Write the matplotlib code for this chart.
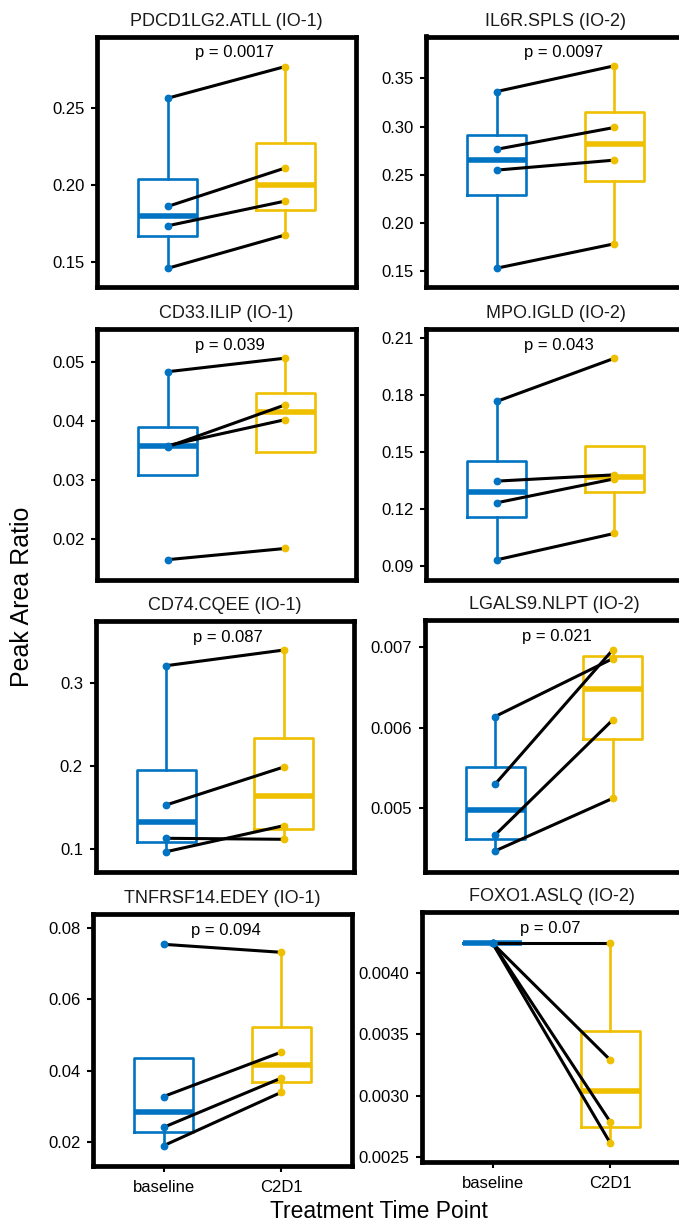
# Paired boxplots, baseline vs C2D1, eight peptides

import numpy as np
import matplotlib.pyplot as plt
from matplotlib import transforms

plt.rcParams['font.family'] = ['Liberation Sans', 'DejaVu Sans']

# Data
titles = ['PDCD1LG2.ATLL (IO-1)', 'IL6R.SPLS (IO-2)',
          'CD33.ILIP (IO-1)', 'MPO.IGLD (IO-2)',
          'CD74.CQEE (IO-1)', 'LGALS9.NLPT (IO-2)',
          'TNFRSF14.EDEY (IO-1)', 'FOXO1.ASLQ (IO-2)']
p_labels = ['p = 0.0017', 'p = 0.0097', 'p = 0.039', 'p = 0.043',
            'p = 0.087', 'p = 0.021', 'p = 0.094', 'p = 0.07']
categories = ['baseline', 'C2D1']

baseline = [
    [0.2561, 0.1861, 0.1736, 0.1461],
    [0.3364, 0.2763, 0.2546, 0.1525],
    [0.0483, 0.0356, 0.0358, 0.0165],
    [0.1765, 0.1346, 0.1232, 0.0932],
    [0.3204, 0.1532, 0.1132, 0.0971],
    [0.00614, 0.00530, 0.004668, 0.00447],
    [0.0755, 0.0327, 0.02405, 0.01888],
    [0.004245, 0.004245, 0.004245, 0.004245],
]
c2d1 = [
    [0.2766, 0.2110, 0.1896, 0.1677],
    [0.3632, 0.2990, 0.2650, 0.1779],
    [0.0506, 0.0427, 0.0402, 0.0184],
    [0.1992, 0.1379, 0.1358, 0.1071],
    [0.3392, 0.1988, 0.1120, 0.1284],
    [0.00686, 0.00697, 0.00610, 0.005124],
    [0.07325, 0.0452, 0.0379, 0.0339],
    [0.004245, 0.00329, 0.002783, 0.00261],
]

yticks = [
    [0.15, 0.20, 0.25],
    [0.15, 0.20, 0.25, 0.30, 0.35],
    [0.02, 0.03, 0.04, 0.05],
    [0.09, 0.12, 0.15, 0.18, 0.21],
    [0.1, 0.2, 0.3],
    [0.005, 0.006, 0.007],
    [0.02, 0.04, 0.06, 0.08],
    [0.0025, 0.0030, 0.0035, 0.0040],
]
ytick_labels = [
    ['0.15', '0.20', '0.25'],
    ['0.15', '0.20', '0.25', '0.30', '0.35'],
    ['0.02', '0.03', '0.04', '0.05'],
    ['0.09', '0.12', '0.15', '0.18', '0.21'],
    ['0.1', '0.2', '0.3'],
    ['0.005', '0.006', '0.007'],
    ['0.02', '0.04', '0.06', '0.08'],
    ['0.0025', '0.0030', '0.0035', '0.0040'],
]
ylims = [
    (0.1337, 0.2960), (0.1324, 0.3937),
    (0.01306, 0.05558), (0.0826, 0.2146),
    (0.0731, 0.3744), (0.004212, 0.007339),
    (0.01316, 0.08394), (0.002459, 0.004499),
]

colors = ['#0073C2', '#EFC000']

# panel frame in pixels (left, top, bottom); right column runs off the edge
W, H = 679, 1222
lefts = [97, 426, 97, 426, 95.5, 424.5, 93, 422]
tops = [36.5, 36.5, 328.7, 329, 620.7, 620, 914.3, 912.3]
bottoms = [287.5, 287.5, 580, 580, 871.7, 871.7, 1166, 1161.7]
pw = 259

fig = plt.figure(figsize=(W / 100, H / 100), dpi=100)

for i in range(8):
    h = bottoms[i] - tops[i]
    ax = fig.add_axes([lefts[i] / W, 1 - bottoms[i] / H, pw / W, h / H])
    b = np.array(baseline[i])
    c = np.array(c2d1[i])

    bp = ax.boxplot([b, c], positions=[1, 2], widths=0.5, whis=1.5,
                    showfliers=False, showcaps=False, patch_artist=False)
    for k in range(2):
        bp['boxes'][k].set(color=colors[k], linewidth=1.9, zorder=1)
        bp['medians'][k].set(color=colors[k], linewidth=4, zorder=2,
                             solid_capstyle='butt')
        for wh in bp['whiskers'][2 * k:2 * k + 2]:
            wh.set(color=colors[k], linewidth=1.9, zorder=1)

    # paired lines
    for y0, y1 in zip(b, c):
        ax.plot([1, 2], [y0, y1], color='black', linewidth=2.2, zorder=3,
                solid_capstyle='round')
    ax.plot(np.ones(len(b)), b, 'o', color=colors[0], markersize=4.6, zorder=4)
    ax.plot(np.full(len(c), 2), c, 'o', color=colors[1], markersize=4.6, zorder=4)

    ax.set_xlim(0.4, 2.6)
    ax.set_ylim(*ylims[i])
    ax.set_yticks(yticks[i])
    ax.set_yticklabels(ytick_labels[i])
    ax.tick_params(axis='y', length=4, width=1.5, labelsize=12, pad=5,
                   colors='black')
    if i >= 6:
        ax.set_xticks([1, 2])
        ax.set_xticklabels(categories)
        ax.tick_params(axis='x', length=4, width=1.5, labelsize=12, pad=6)
    else:
        ax.set_xticks([])

    for sp in ax.spines.values():
        sp.set_linewidth(3.4)
        sp.set_color('black')

    trans = transforms.blended_transform_factory(ax.transData, ax.transAxes)
    ax.text(1.232, 1 - 16.5 / h, p_labels[i], transform=trans,
            ha='left', va='center', fontsize=12)
    ax.text(0.5, 1 + 15.5 / h, titles[i], transform=ax.transAxes,
            ha='center', va='center', fontsize=13, color='#1a1a1a')

fig.text(22 / W, 1 - 596.5 / H, 'Peak Area Ratio', rotation=90,
         ha='center', va='center', fontsize=18)
fig.text(379 / W, 1 - 1211 / H, 'Treatment Time Point',
         ha='center', va='center', fontsize=16.5)

plt.savefig('out.png', dpi=100)
